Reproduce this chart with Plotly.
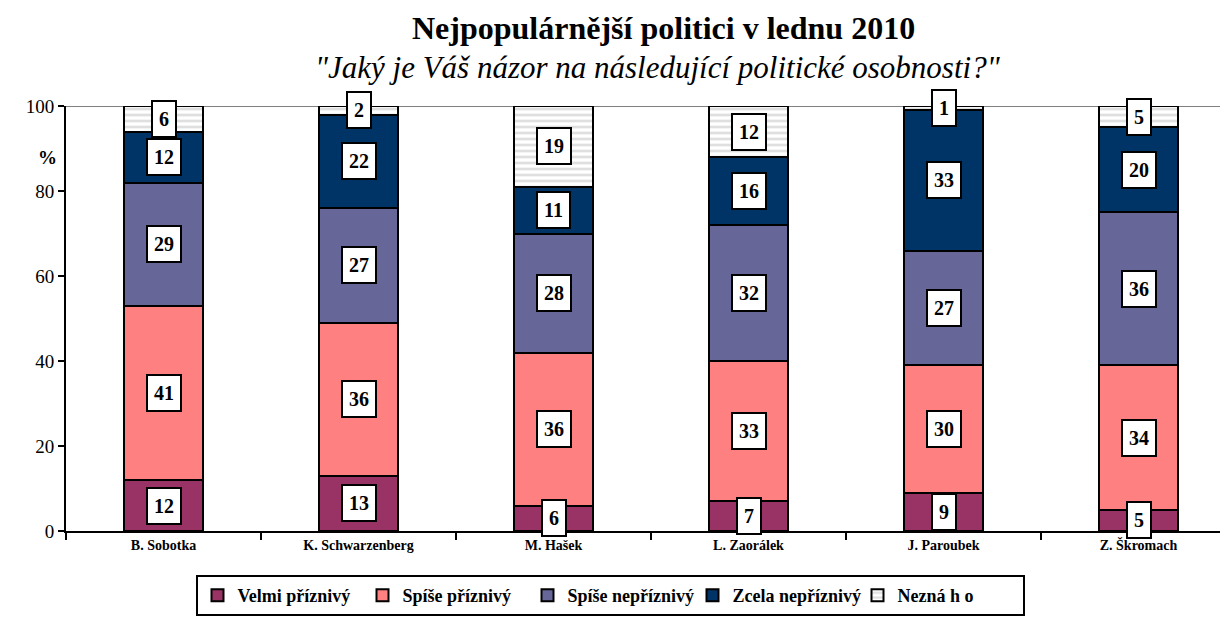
import plotly.graph_objects as go

categories = ["B. Sobotka", "K. Schwarzenberg", "M. Hašek", "L. Zaorálek", "J. Paroubek", "Z. Škromach"]
velmi_priznivy = [12, 13, 6, 7, 9, 5]
spise_priznivy = [41, 36, 36, 33, 30, 34]
spise_nepriznivy = [29, 27, 28, 32, 27, 36]
zcela_nepriznivy = [12, 22, 11, 16, 33, 20]
nezna_ho = [6, 2, 19, 12, 1, 5]

series = [
    ("Velmi příznivý", velmi_priznivy, "#993366", None),
    ("Spíše příznivý", spise_priznivy, "#FF8080", None),
    ("Spíše nepříznivý", spise_nepriznivy, "#666699", None),
    ("Zcela nepříznivý", zcela_nepriznivy, "#003366", None),
    ("Nezná h o", nezna_ho, "#FFFFFF", "-"),
]

SERIF = "Liberation Serif"

fig = go.Figure()
for name, vals, color, pat in series:
    marker = dict(color=color, line=dict(color="black", width=2))
    if pat:
        marker["pattern"] = dict(shape=pat, fgcolor="#BFBFBF", bgcolor="white", size=6, solidity=0.45)
    fig.add_trace(go.Bar(name="<b>%s</b>" % name, x=categories, y=vals, marker=marker, width=0.41))

for i, cat in enumerate(categories):
    base = 0
    for name, vals, color, pat in series:
        v = vals[i]
        fig.add_annotation(
            x=cat, y=base + v / 2, xref="x", yref="y", text="<b>%d</b>" % v, showarrow=False,
            font=dict(family=SERIF, size=20, color="black"),
            bgcolor="white", bordercolor="black", borderwidth=2, borderpad=6,
        )
        base += v

fig.add_annotation(text="<b>Nejpopulárnější politici v lednu 2010</b>", x=(655 - 58) / 1170, xref="paper",
                   y=1.0, yref="paper", yshift=78, xanchor="center", yanchor="middle", showarrow=False,
                   font=dict(family=SERIF, size=32, color="black"))
fig.add_annotation(text="<i>\"Jaký je Váš názor na následující politické osobnosti?\"</i>", x=(650 - 58) / 1170,
                   xref="paper", y=1.0, yref="paper", yshift=39, xanchor="center", yanchor="middle",
                   showarrow=False, font=dict(family=SERIF, size=31, color="black"))
fig.add_annotation(text="<b>%</b>", x=0, xref="paper", xshift=-30, y=88, yref="y",
                   showarrow=False, font=dict(family=SERIF, size=19, color="black"))

fig.update_layout(
    barmode="stack",
    width=1228, height=618,
    margin=dict(l=58, r=0, t=98, b=95, autoexpand=False),
    paper_bgcolor="white", plot_bgcolor="white",
    showlegend=True,
    legend=dict(orientation="h", x=(602 - 58) / 1170, xanchor="center", y=-(616 - 531) / 425,
                yanchor="bottom",
                bordercolor="black", borderwidth=2, font=dict(family=SERIF, size=18, color="black"),
                traceorder="normal", itemwidth=30, tracegroupgap=0, entrywidth=120,
                entrywidthmode="pixels"),
    xaxis=dict(type="category", range=[-0.5, 5.5], showline=True, linecolor="black", linewidth=2,
               ticks="outside", tickson="boundaries", ticklen=7, tickcolor="black", tickwidth=2,
               tickmode="array", tickvals=categories,
               ticktext=["<b>%s</b>" % c for c in categories],
               tickfont=dict(family=SERIF, size=14, color="black"), showgrid=False),
    yaxis=dict(range=[0, 100], tickvals=[0, 20, 40, 60, 80, 100], showline=True, linecolor="black",
               linewidth=2, ticks="outside", ticklen=6, tickcolor="black", tickwidth=2,
               tickfont=dict(family=SERIF, size=19, color="black"), showgrid=False, zeroline=False),
    shapes=[dict(type="line", xref="paper", yref="y", x0=0, x1=1, y0=100, y1=100,
                 line=dict(color="#808080", width=2), layer="below")],
)

fig.write_html("out.html")
